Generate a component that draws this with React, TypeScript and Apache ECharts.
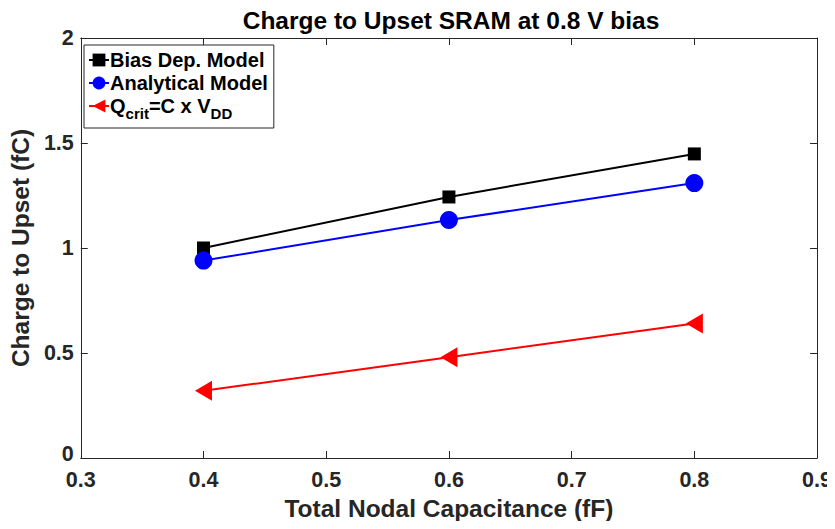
import React, { useEffect, useRef } from "react";
import * as echarts from "echarts";

const capacitance = [0.4, 0.6, 0.8];
const biasDepModel = [1.0, 1.243, 1.448];
const analyticalModel = [0.94, 1.133, 1.309];
const qcritModel = [0.32, 0.48, 0.64];

const xTicks = { min: 0.3, max: 0.9, interval: 0.1 };
const yTicks = { min: 0, max: 2, interval: 0.5 };

const FONT = "'Liberation Sans', Arial, Helvetica, sans-serif";
const AXIS = "#262626";

export default function App() {
  const ref = useRef<HTMLDivElement>(null);
  useEffect(() => {
    if (!ref.current) return;
    const chart = echarts.init(ref.current, undefined, { renderer: "svg" });
    const pair = (ys: number[]) => capacitance.map((x, i) => [x, ys[i]]);
    const baseX = {
      type: "value",
      min: xTicks.min,
      max: xTicks.max,
      interval: xTicks.interval,
      splitLine: { show: false },
      axisLine: { show: true, onZero: false, lineStyle: { color: AXIS, width: 1 } },
      axisTick: { show: true, inside: true, length: 7, lineStyle: { color: AXIS } },
    };
    const baseY = {
      type: "value",
      min: yTicks.min,
      max: yTicks.max,
      interval: yTicks.interval,
      splitLine: { show: false },
      axisLine: { show: true, onZero: false, lineStyle: { color: AXIS, width: 1 } },
      axisTick: { show: true, inside: true, length: 7, lineStyle: { color: AXIS } },
    };
    const tickFont = { fontFamily: FONT, fontSize: 21.5, fontWeight: "bold", color: AXIS };
    chart.setOption({
      animation: false,
      backgroundColor: "#ffffff",
      textStyle: { fontFamily: FONT },
      title: {
        text: "Charge to Upset SRAM at 0.8 V bias",
        left: 446,
        textAlign: "center",
        top: 3,
        textStyle: { fontFamily: FONT, fontSize: 24.5, fontWeight: "bold", color: "#000" },
      },
      grid: { left: 77, right: 15, top: 38, bottom: 71, containLabel: false },
      legend: {
        orient: "vertical",
        left: 84,
        top: 45,
        padding: [5, 6, 7, 4],
        itemGap: 3,
        itemWidth: 20,
        itemHeight: 16,
        borderColor: AXIS,
        borderWidth: 1,
        backgroundColor: "#fff",
        symbolRotate: "inherit",
        textStyle: {
          fontFamily: FONT,
          fontSize: 20,
          fontWeight: "bold",
          color: "#000",
          padding: [0, 0, 0, -4],
          rich: {
            n: { fontFamily: FONT, fontSize: 20, fontWeight: "bold", color: "#000" },
            s: { fontFamily: FONT, fontSize: 15, fontWeight: "bold", color: "#000", padding: [15, 0, 0, 0] },
          },
        },
        formatter: (name: string) =>
          name === "Qcrit" ? "{n|Q}{s|crit}{n|=C x V}{s|DD}" : name,
        data: ["Bias Dep. Model", "Analytical Model", "Qcrit"],
      },
      xAxis: [
        {
          ...baseX,
          position: "bottom",
          name: "Total Nodal Capacitance (fF)",
          nameLocation: "middle",
          nameGap: 37,
          nameTextStyle: { fontFamily: FONT, fontSize: 24.5, fontWeight: "bold", color: AXIS },
          axisLabel: {
            ...tickFont,
            margin: 14,
            lineHeight: 16,
            formatter: (v: number) => v.toFixed(1),
          },
        },
        { ...baseX, position: "top", axisLabel: { show: false } },
      ],
      yAxis: [
        {
          ...baseY,
          position: "left",
          name: "Charge to Upset (fC)",
          nameLocation: "middle",
          nameGap: 26,
          nameTextStyle: { fontFamily: FONT, fontSize: 24.5, fontWeight: "bold", color: AXIS },
          axisLabel: {
            ...tickFont,
            margin: 7,
            lineHeight: 16,
            formatter: (v: number) =>
              v === 0 ? "{z|0}" : v === 1 || v === 2 ? String(v) : v.toFixed(1),
            rich: {
              z: { ...tickFont, lineHeight: 16, padding: [0, 0, 8, 0] },
            },
          },
        },
        { ...baseY, position: "right", axisLabel: { show: false } },
      ],
      series: [
        {
          name: "Bias Dep. Model",
          type: "line",
          data: pair(biasDepModel),
          symbol: "rect",
          symbolSize: 13,
          color: "#000000",
          lineStyle: { color: "#000000", width: 2 },
          itemStyle: { color: "#000000" },
        },
        {
          name: "Analytical Model",
          type: "line",
          data: pair(analyticalModel),
          symbol: "circle",
          symbolSize: 18,
          color: "#0000ff",
          lineStyle: { color: "#0000ff", width: 2 },
          itemStyle: { color: "#0000ff" },
        },
        {
          name: "Qcrit",
          type: "line",
          data: pair(qcritModel),
          symbol: "triangle",
          symbolRotate: 90,
          symbolSize: [20, 17],
          color: "#ff0000",
          lineStyle: { color: "#ff0000", width: 2 },
          itemStyle: { color: "#ff0000" },
        },
      ],
    });
    return () => chart.dispose();
  }, []);
  return <div ref={ref} style={{ width: 835, height: 529, margin: -8 }} />;
}
